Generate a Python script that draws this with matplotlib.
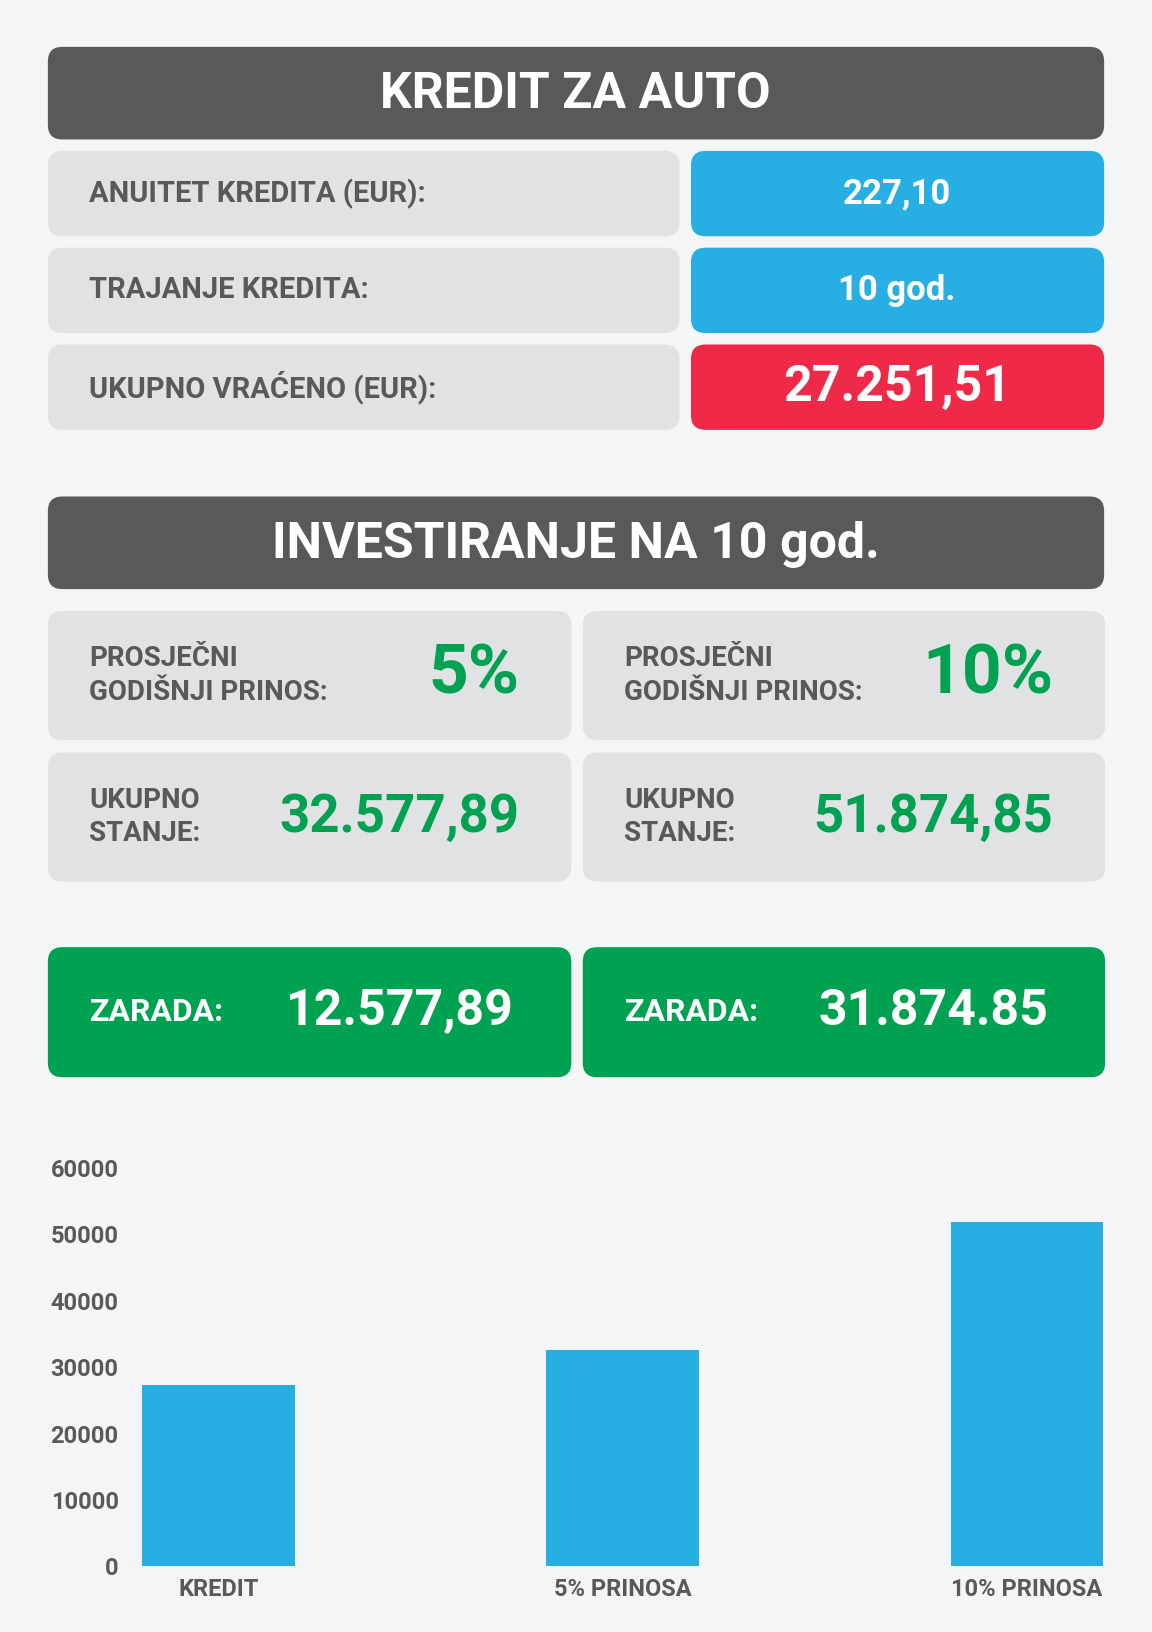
import matplotlib
matplotlib.use("Agg")
import matplotlib.pyplot as plt
from matplotlib.patches import FancyBboxPatch

categories = ["KREDIT", "5% PRINOSA", "10% PRINOSA"]
values = [27251.51, 32577.89, 51874.85]
yticks = [0, 10000, 20000, 30000, 40000, 50000, 60000]

W, H = 1107, 1568
fig = plt.figure(figsize=(11.52, 16.32), dpi=100)
fig.patch.set_facecolor("#f4f5f6")
bg = fig.add_axes([0, 0, 1, 1])
bg.set_xlim(0, W); bg.set_ylim(H, 0); bg.axis("off")
FONT = "Roboto"
DARK = "#58595b"; GREY = "#e1e2e4"; BLUE = "#27aee2"; RED = "#ef2a48"; GREEN = "#00a151"; TXT = "#58595b"

def box(x0, y0, x1, y1, c):
    bg.add_patch(FancyBboxPatch((x0, y0), x1 - x0, y1 - y0,
                 boxstyle="round,pad=0,rounding_size=14", fc=c, ec="none"))

def txt(x, y, s, size, color, ha="left", ls=1.3):
    bg.text(x, y, s, fontsize=size, color=color, ha=ha, va="center",
            fontweight="bold", family=FONT, linespacing=ls)

box(46, 45, 1061, 134, DARK); txt(553, 91, "KREDIT ZA AUTO", 36, "white", "center")
rows = [("ANUITET KREDITA (EUR):", "227,10", BLUE, 25),
        ("TRAJANJE KREDITA:", "10 god.", BLUE, 25),
        ("UKUPNO VRAĆENO (EUR):", "27.251,51", RED, 36)]
for i, (l, v, c, s) in enumerate(rows):
    y0 = 145 + i * 93
    box(46, y0, 653, y0 + 82, GREY); txt(86, y0 + 41, l, 21, TXT)
    box(664, y0, 1061, y0 + 82, c); txt(862, y0 + 41, v, s, "white", "center")

box(46, 477, 1061, 566, DARK); txt(553, 523, "INVESTIRANJE NA 10 god.", 36, "white", "center")
for x0, x1, pct, tot, zar in [(46, 549, "5%", "32.577,89", "12.577,89"),
                              (560, 1062, "10%", "51.874,85", "31.874.85")]:
    box(x0, 587, x1, 711, GREY)
    txt(x0 + 40, 649, "PROSJEČNI\nGODIŠNJI PRINOS:", 20, TXT)
    txt(x1 - 50, 649, pct, 50, GREEN, "right")
    box(x0, 723, x1, 847, GREY)
    txt(x0 + 40, 785, "UKUPNO\nSTANJE:", 20, TXT)
    txt(x1 - 50, 785, tot, 38, GREEN, "right")
    box(x0, 910, x1, 1035, GREEN)
    txt(x0 + 40, 972, "ZARADA:", 23, "white")
    txt(x1 - 55, 972, zar, 36, "white", "right")

ax = fig.add_axes([130 / W, 1 - 1505 / H, (1063 - 130) / W, (1505 - 1122) / H])
ax.set_facecolor("none")
ax.bar(range(3), values, width=0.378, color=BLUE)
ax.set_xlim(-0.206, 2.196); ax.set_ylim(0, 60000)
ax.set_yticks(yticks); ax.set_xticks(range(3))
ax.set_xticklabels(categories)
for s in ax.spines.values(): s.set_visible(False)
ax.tick_params(length=0, colors=TXT, labelsize=17)
ax.tick_params(axis="y", pad=12); ax.tick_params(axis="x", pad=8)
for t in ax.get_xticklabels() + ax.get_yticklabels():
    t.set_fontweight("bold"); t.set_family(FONT)
fig.savefig("out.png", dpi=100, facecolor=fig.get_facecolor())
